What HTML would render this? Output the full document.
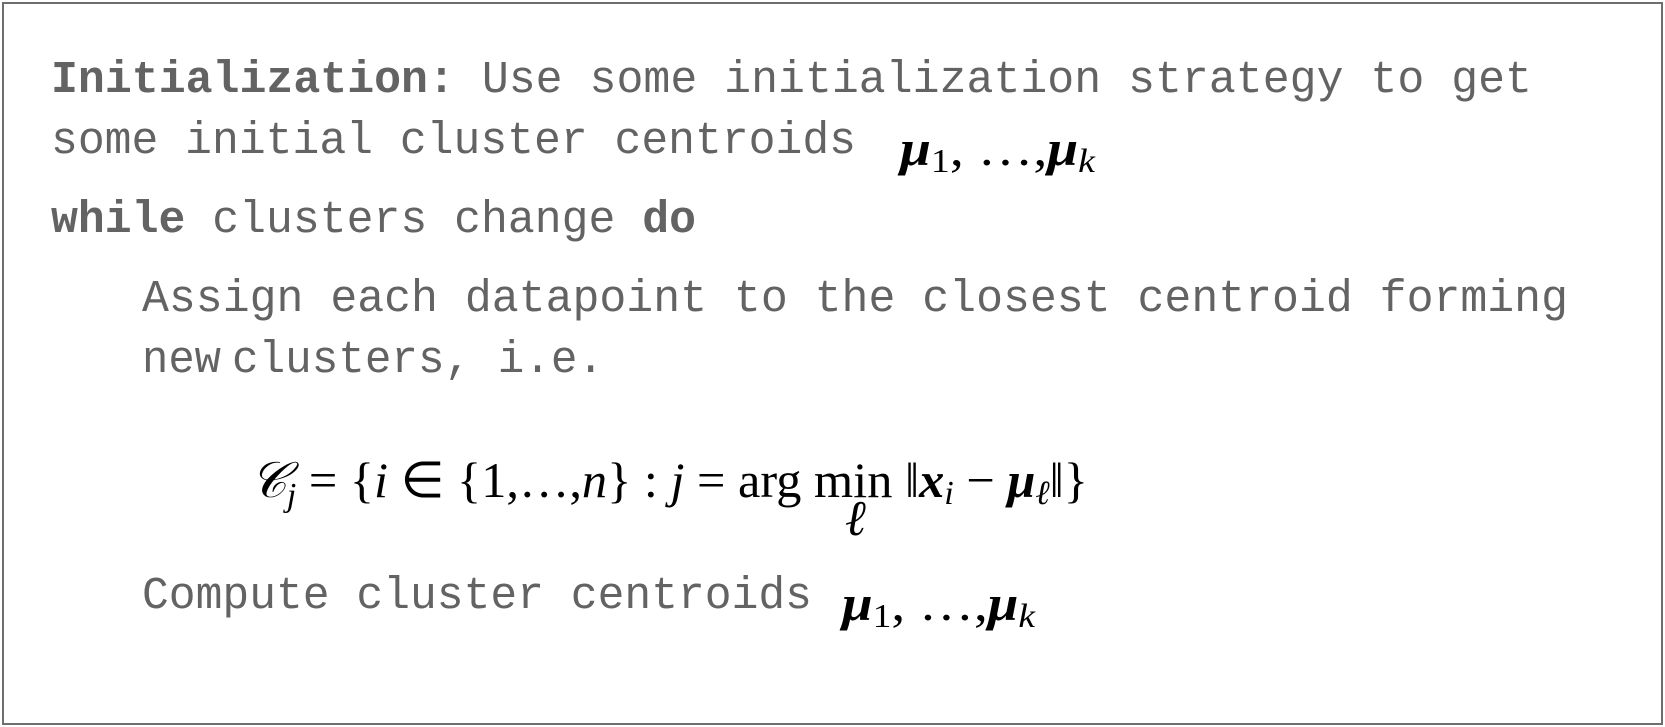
<!DOCTYPE html>
<html><head><meta charset="utf-8"><style>
html,body{margin:0;padding:0;background:#fff;}
svg{display:block;}
.m{font-family:"Liberation Mono",monospace;font-size:45px;fill:#636363;}
.b{font-weight:bold;}
.s{font-family:"Liberation Serif",serif;font-size:50px;fill:#000;}
</style></head><body>
<svg width="1665" height="727" viewBox="0 0 1665 727" xmlns="http://www.w3.org/2000/svg">
<rect x="3" y="3" width="1659" height="721" fill="#fff" stroke="#6e6e6e" stroke-width="2"/>
<text class="m" x="51" y="92" textLength="1481" lengthAdjust="spacingAndGlyphs"><tspan class="b">Initialization:</tspan> Use some initialization strategy to get</text>
<text class="m" x="51" y="153" textLength="805" lengthAdjust="spacingAndGlyphs">some initial cluster centroids</text>
<text class="s" x="900" y="165" textLength="195" lengthAdjust="spacingAndGlyphs"><tspan font-weight="bold" font-style="italic">μ</tspan><tspan font-size="34" dy="7">1</tspan><tspan dy="-7">, …,</tspan><tspan font-weight="bold" font-style="italic">μ</tspan><tspan font-size="34" font-style="italic" dy="7">k</tspan></text>
<text class="m" x="51" y="232" textLength="645" lengthAdjust="spacingAndGlyphs"><tspan class="b">while</tspan> clusters change <tspan class="b">do</tspan></text>
<text class="m" x="142" y="311" textLength="1426" lengthAdjust="spacingAndGlyphs">Assign each datapoint to the closest centroid forming</text>
<text class="m" x="142" y="372" textLength="79" lengthAdjust="spacingAndGlyphs">new</text>
<text class="m" x="232" y="372" textLength="372" lengthAdjust="spacingAndGlyphs">clusters, i.e.</text>
<text class="s" x="250" y="497" textLength="838" lengthAdjust="spacingAndGlyphs"><tspan font-style="italic">𝒞</tspan><tspan font-size="34" font-style="italic" dy="9">j</tspan><tspan dy="-9"> = {</tspan><tspan font-style="italic">i</tspan> ∈ {1,…,<tspan font-style="italic">n</tspan>}  : <tspan font-style="italic">j</tspan> = arg min ‖<tspan font-weight="bold" font-style="italic">x</tspan><tspan font-size="34" font-style="italic" dy="7">i</tspan><tspan dy="-7"> − </tspan><tspan font-weight="bold" font-style="italic">μ</tspan><tspan font-size="34" font-style="italic" dy="7">ℓ</tspan><tspan dy="-7">‖}</tspan></text>
<text class="s" x="845" y="535" font-size="34" font-style="italic">ℓ</text>
<text class="m" x="142" y="608" textLength="670" lengthAdjust="spacingAndGlyphs">Compute cluster centroids</text>
<text class="s" x="842" y="620" textLength="193" lengthAdjust="spacingAndGlyphs"><tspan font-weight="bold" font-style="italic">μ</tspan><tspan font-size="34" dy="7">1</tspan><tspan dy="-7">, …,</tspan><tspan font-weight="bold" font-style="italic">μ</tspan><tspan font-size="34" font-style="italic" dy="7">k</tspan></text>
</svg>
</body></html>
